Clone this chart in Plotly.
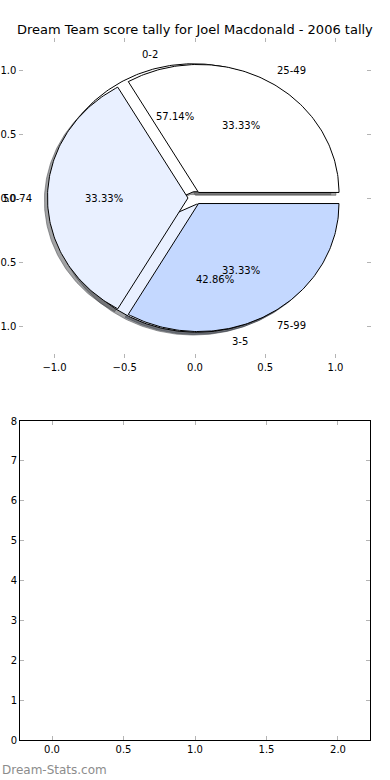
import numpy as np
import plotly.graph_objects as go

# ---------------- data ----------------
title_text = "Dream Team score tally for Joel Macdonald - 2006 tally"
outer_labels = ["25-49", "50-74", "75-99"]
outer_values = [1, 1, 1]
inner_labels = ["0-2", "3-5"]
inner_values = [4, 3]
pie_tick_vals = [-1.0, -0.5, 0.0, 0.5, 1.0]
bar_x_ticks = [0.0, 0.5, 1.0, 1.5, 2.0]
bar_y_ticks = [0, 1, 2, 3, 4, 5, 6, 7, 8]
watermark = "Dream-Stats.com"

# ---------------- style ----------------
OUTER_COLORS = ["#ffffff", "#e9f0ff", "#c4d8ff"]
INNER_COLORS = ["#ffffff", "#e9f0ff"]
EXPLODE = 0.05
SH_OX, SH_OY = -0.022, -0.022
FONT = "DejaVu Sans"
TICK_COLOR = "#b4b4b4"
W, H = 390, 780


def hex_rgb(h):
    h = h.lstrip("#")
    return tuple(int(h[i:i + 2], 16) for i in (0, 2, 4))


def make_wedges(values, explode):
    total = float(sum(values))
    out = []
    start = 0.0
    for v in values:
        frac = v / total
        t1, t2 = 2 * np.pi * start, 2 * np.pi * (start + frac)
        mid = 0.5 * (t1 + t2)
        cx, cy = explode * np.cos(mid), explode * np.sin(mid)
        th = np.linspace(t1, t2, max(int(frac * 360), 4))
        xs = np.concatenate([[cx], cx + np.cos(th), [cx]])
        ys = np.concatenate([[cy], cy + np.sin(th), [cy]])
        out.append(dict(xs=xs, ys=ys, cx=cx, cy=cy, mid=mid, frac=frac))
        start += frac
    return out


inner = make_wedges(inner_values, EXPLODE)
outer = make_wedges(outer_values, EXPLODE)

fig = go.Figure()

# shadows (drawn below all wedges)
for wedges, colors in ((inner, INNER_COLORS), (outer, OUTER_COLORS)):
    for w, c in zip(wedges, colors):
        r, g, b = hex_rgb(c)
        sc = "rgba(%d,%d,%d,0.5)" % (r * 0.3, g * 0.3, b * 0.3)
        fig.add_trace(go.Scatter(
            x=w["xs"] + SH_OX, y=w["ys"] + SH_OY, mode="lines", fill="toself",
            fillcolor=sc, line=dict(color=sc, width=1),
            hoverinfo="skip", showlegend=False, xaxis="x", yaxis="y"))

# wedges: inner pie first, then outer pie on top
for wedges, colors in ((inner, INNER_COLORS), (outer, OUTER_COLORS)):
    for w, c in zip(wedges, colors):
        fig.add_trace(go.Scatter(
            x=w["xs"], y=w["ys"], mode="lines", fill="toself",
            fillcolor=c, line=dict(color="black", width=1),
            hoverinfo="skip", showlegend=False, xaxis="x", yaxis="y"))

# empty lower axes
fig.add_trace(go.Scatter(x=[], y=[], xaxis="x2", yaxis="y2", showlegend=False))

annotations = []
for wedges, labels in ((inner, inner_labels), (outer, outer_labels)):
    for w, lab in zip(wedges, labels):
        lx = w["cx"] + 1.1 * np.cos(w["mid"])
        ly = w["cy"] + 1.1 * np.sin(w["mid"])
        annotations.append(dict(
            x=lx, y=ly, xref="x", yref="y", text=lab, showarrow=False,
            xanchor="left" if lx > 0 else "right", yanchor="middle",
            font=dict(family=FONT, size=10, color="black"), borderpad=0))
        px_ = w["cx"] + 0.6 * np.cos(w["mid"])
        py_ = w["cy"] + 0.6 * np.sin(w["mid"])
        annotations.append(dict(
            x=px_, y=py_, xref="x", yref="y", text="%.2f%%" % (w["frac"] * 100),
            showarrow=False, xanchor="center", yanchor="middle",
            font=dict(family=FONT, size=10, color="black"), borderpad=0))

annotations.append(dict(
    x=0.5, y=1 - 30 / H, xref="paper", yref="paper", text=title_text,
    showarrow=False, xanchor="center", yanchor="middle",
    font=dict(family=FONT, size=13, color="black")))
annotations.append(dict(
    x=0, y=1 - 770 / H, xref="paper", yref="paper", text=watermark,
    showarrow=False, xanchor="left", yanchor="middle",
    font=dict(family=FONT, size=12, color="#8c8c8c")))

tick_common = dict(ticks="inside", ticklen=4, tickwidth=1, tickcolor=TICK_COLOR,
                   showgrid=False, zeroline=False, automargin=False,
                   tickfont=dict(family=FONT, size=10, color="black"))

fig.update_layout(
    width=W, height=H, autosize=False,
    margin=dict(l=0, r=0, t=0, b=0, pad=0, autoexpand=False),
    paper_bgcolor="white", plot_bgcolor="white",
    showlegend=False,
    annotations=annotations,
    xaxis=dict(domain=[19.4 / W, 370.6 / W], range=[-1.25, 1.25], anchor="y",
               tickvals=pie_tick_vals, tickformat=".1f",
               showline=True, linecolor="rgba(0,0,0,0)", mirror="ticks",
               **tick_common),
    yaxis=dict(domain=[1 - 358 / H, 1 - 38 / H], range=[-1.25, 1.25], anchor="x",
               tickvals=pie_tick_vals, tickformat=".1f",
               showline=True, linecolor="rgba(0,0,0,0)", mirror="ticks",
               **tick_common),
    xaxis2=dict(domain=[20 / W, 370 / W], range=[-0.224, 2.224], anchor="y2",
                tickvals=bar_x_ticks, tickformat=".1f",
                showline=True, linecolor="black", linewidth=1, mirror="ticks",
                **tick_common),
    yaxis2=dict(domain=[1 - 740 / H, 1 - 421 / H], range=[0, 8], anchor="x2",
                tickvals=bar_y_ticks, tickformat="d",
                showline=True, linecolor="black", linewidth=1, mirror="ticks",
                **tick_common),
)

fig.write_html("out.html",
               config={"displayModeBar": False},
               post_script="document.body.style.margin='0';document.body.style.overflow='hidden';")
